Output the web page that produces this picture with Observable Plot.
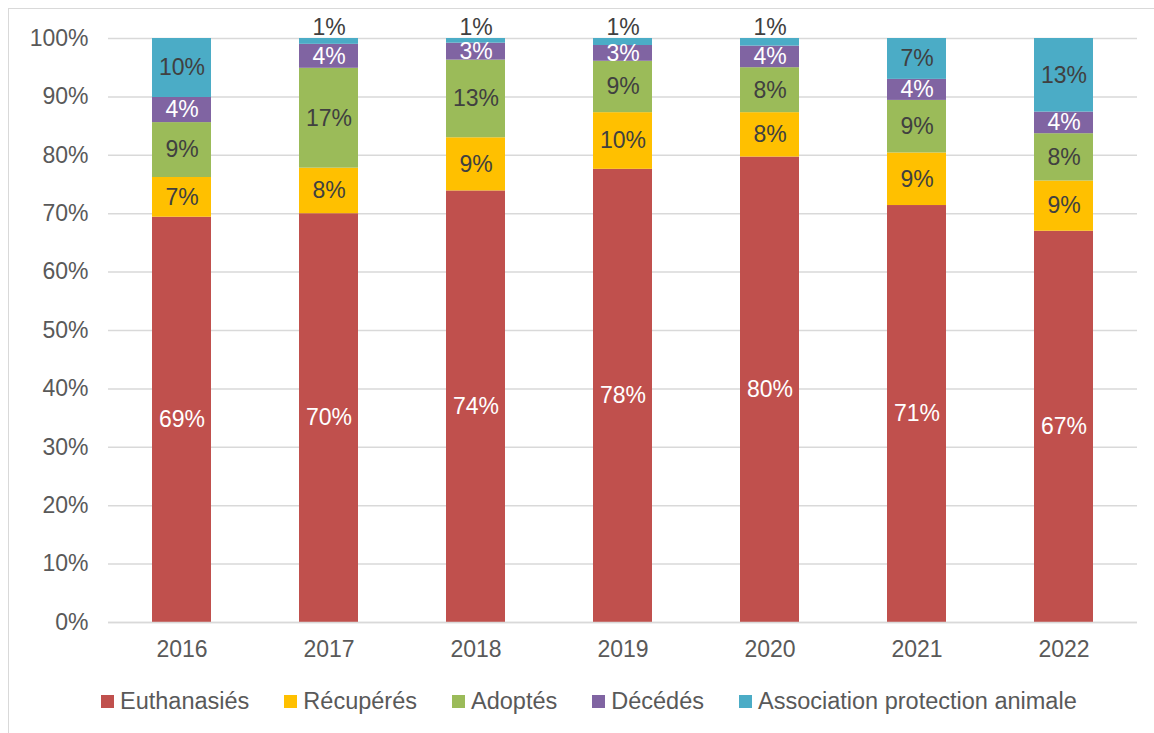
<!DOCTYPE html>
<html>
<head>
<meta charset="utf-8">
<script src="https://cdn.jsdelivr.net/npm/d3@7"></script>
<script src="https://cdn.jsdelivr.net/npm/@observablehq/plot@0.6"></script>
<style>
  html, body { margin: 0; padding: 0; background: #fff; }
  body { width: 1154px; height: 733px; position: relative; overflow: hidden; font-family: "Liberation Sans", Arial, sans-serif; }
  #frame { position: absolute; left: 8px; top: 8px; width: 1160px; height: 740px; border: 1px solid #d9d9d9; box-sizing: border-box; }
  #chart { position: absolute; left: 0; top: 0; }
  #legend { position: absolute; left: 101px; top: 688px; display: flex; align-items: center; font-size: 23.5px; color: #595959; white-space: nowrap; }
  #legend .item { display: flex; align-items: center; margin-right: 35px; }
  #legend .sw { width: 13px; height: 13px; margin-right: 6px; }
</style>
</head>
<body>
<div id="frame"></div>
<div id="chart"></div>
<div id="legend"></div>
<script>
const years = ["2016", "2017", "2018", "2019", "2020", "2021", "2022"];
const categories = ["Euthanasiés", "Récupérés", "Adoptés", "Décédés", "Association protection animale"];
const colors = ["#C0504D", "#FFC000", "#9BBB59", "#8064A2", "#4BACC6"];
const labelColors = ["#ffffff", "#404040", "#404040", "#ffffff", "#404040"];
const euthanasies = [69.4, 70.0, 73.9, 77.6, 79.7, 71.4, 67.0];
const recuperes   = [6.8, 7.8, 9.1, 9.7, 7.6, 9.0, 8.6];
const adoptes     = [9.4, 17.1, 13.3, 8.8, 7.7, 9.0, 8.1];
const decedes     = [4.3, 4.1, 2.9, 2.7, 3.7, 3.6, 3.7];
const association = [10.1, 1.0, 0.8, 1.2, 1.3, 7.0, 12.6];
const yTicks = [0, 10, 20, 30, 40, 50, 60, 70, 80, 90, 100];

const series = [euthanasies, recuperes, adoptes, decedes, association];
const data = [];
categories.forEach((c, i) => {
  years.forEach((y, j) => data.push({year: y, cat: c, value: series[i][j], ci: i}));
});

// label positions (midpoints; small segments labeled above the bar)
const labels = [];
years.forEach((y, j) => {
  let cum = 0;
  categories.forEach((c, i) => {
    const v = series[i][j];
    const small = v < 2;
    labels.push({
      year: y, cat: c,
      y: small ? 100 : cum + v / 2,
      small,
      text: Math.round(v) + "%",
      color: small ? "#404040" : labelColors[i]
    });
    cum += v;
  });
});

const chart = Plot.plot({
  width: 1154,
  height: 670,
  marginLeft: 108,
  marginRight: 17,
  marginTop: 38,
  marginBottom: 48,
  style: {fontFamily: "Liberation Sans, Arial, sans-serif", fontSize: "23px", color: "#595959", background: "transparent"},
  x: {domain: years, paddingInner: 0.6, paddingOuter: 0.3, label: null, tickSize: 0, tickPadding: 18},
  y: {domain: [0, 100], ticks: yTicks, tickFormat: d => d + "%", label: null, tickSize: 0, tickPadding: 20},
  color: {domain: categories, range: colors},
  marks: [
    Plot.gridY(yTicks, {stroke: "#d9d9d9", strokeOpacity: 1, strokeWidth: 1.5}),
    Plot.barY(data, {x: "year", y: "value", fill: "cat", order: categories}),
    Plot.ruleY([0], {stroke: "#d9d9d9", strokeWidth: 1.5}),
    Plot.text(labels.filter(d => !d.small), {x: "year", y: "y", text: "text", fill: "color", fontSize: 23}),
    Plot.text(labels.filter(d => d.small), {x: "year", y: "y", text: "text", fill: "color", fontSize: 23, dy: -11})
  ]
});
document.getElementById("chart").appendChild(chart);

const legend = document.getElementById("legend");
categories.forEach((c, i) => {
  const it = document.createElement("div");
  it.className = "item";
  const sw = document.createElement("div");
  sw.className = "sw";
  sw.style.background = colors[i];
  const tx = document.createElement("span");
  tx.textContent = c;
  it.appendChild(sw);
  it.appendChild(tx);
  legend.appendChild(it);
});
</script>
</body>
</html>
